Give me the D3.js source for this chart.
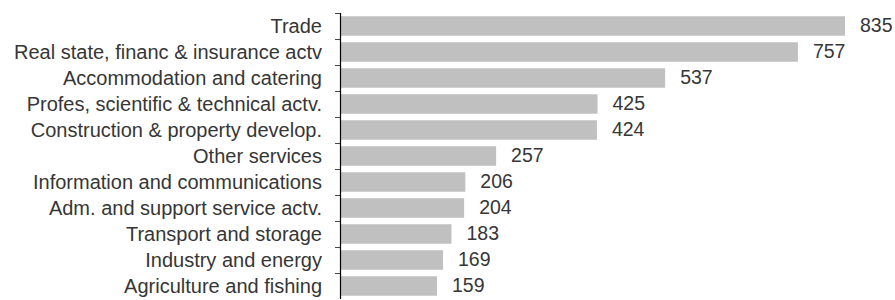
<!DOCTYPE html>
<html>
<head>
<meta charset="utf-8">
<script src="https://cdn.jsdelivr.net/npm/d3@7"></script>
<style>
	body { margin: 0; background: #fff; }
	text { font-family: "Liberation Sans", Arial, sans-serif; fill: #363636; }
</style>
</head>
<body>
<div id="chart-area"></div>
<script>
// data
let categories = [
	"Trade",
	"Real state, financ & insurance actv",
	"Accommodation and catering",
	"Profes, scientific & technical actv.",
	"Construction & property develop.",
	"Other services",
	"Information and communications",
	"Adm. and support service actv.",
	"Transport and storage",
	"Industry and energy",
	"Agriculture and fishing"
];
let values = [835, 757, 537, 425, 424, 257, 206, 204, 183, 169, 159];

let data = categories.map((c, i) => ({ name: c, value: values[i] }));

let margin = {top: 13, right: 50, bottom: 1, left: 341};
let width = 895 - margin.left - margin.right,
	height = 300 - margin.top - margin.bottom;

let svg = d3.select("#chart-area").append("svg")
	.attr("width", 895)
	.attr("height", 300)
	.append("g")
	.attr("transform", "translate(" + margin.left + "," + margin.top + ")");

let y = d3.scaleBand()
	.domain(categories)
	.range([0, height])
	.paddingInner(0.25)
	.paddingOuter(0.125);

let x = d3.scaleLinear()
	.domain([0, d3.max(values)])
	.range([0, 504]);

// bars
svg.selectAll("rect.bar").data(data)
	.enter()
	.append("rect")
	.attr("class", "bar")
	.attr("x", 0)
	.attr("y", d => y(d.name))
	.attr("width", d => x(d.value))
	.attr("height", y.bandwidth())
	.attr("fill", "#c0c0c0");

// value labels
svg.selectAll("text.value").data(data)
	.enter()
	.append("text")
	.attr("class", "value")
	.attr("x", d => x(d.value) + 15)
	.attr("y", d => y(d.name) + y.bandwidth() / 2)
	.attr("dy", "0.33em")
	.style("font-size", "19.5px")
	.text(d => d.value);

// category axis, ticks sit on band boundaries
let yAxis = d3.axisLeft(y).tickSize(0).tickPadding(19);

let gy = svg.append("g")
	.attr("class", "axis y-axis")
	.call(yAxis);
gy.select(".domain").remove();
gy.selectAll("text")
	.style("font-size", "20px")
	.attr("dy", "0.33em")
	.style("fill", "#363636");

let bounds = categories.map(c => y(c) - y.step() * y.paddingInner() / 2);
bounds[0] = 0;
svg.selectAll("line.tick-b").data(bounds)
	.enter()
	.append("line")
	.attr("class", "tick-b")
	.attr("x1", -6)
	.attr("x2", 0)
	.attr("y1", d => Math.round(d) + 0.5)
	.attr("y2", d => Math.round(d) + 0.5)
	.attr("stroke", "#444");

svg.append("line")
	.attr("x1", -0.5)
	.attr("x2", -0.5)
	.attr("y1", 0)
	.attr("y2", height)
	.attr("stroke", "#000")
	.attr("stroke-width", 1.2);
</script>
</body>
</html>
